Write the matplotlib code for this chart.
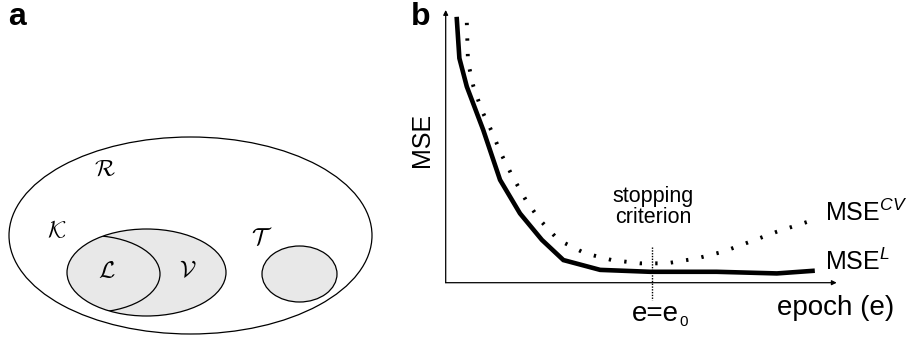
import numpy as np
import matplotlib.pyplot as plt
from matplotlib.patches import Ellipse

plt.rcParams['font.family'] = ['Liberation Sans', 'DejaVu Sans']
plt.rcParams['mathtext.fontset'] = 'custom'
plt.rcParams['mathtext.rm'] = 'Liberation Sans'
plt.rcParams['mathtext.it'] = 'Liberation Sans:italic'

# panel b curves (arbitrary units: epoch 0-100, MSE 0-100)
train_epoch = [2.8, 3.5, 5.4, 9.6, 13.9, 19.0, 24.6, 30.1, 39.5, 52.3, 69.3, 84.7, 94.4]
train_mse = [97.5, 82.3, 71.9, 56.0, 37.7, 25.4, 15.7, 8.3, 4.7, 4.0, 4.0, 3.4, 4.4]
cv_epoch = [5.4, 5.7, 7.1, 9.2, 11.8, 14.1, 17.1, 20.5, 24.1, 28.8, 35.6, 42.5, 49.7,
            56.5, 64.2, 71.0, 77.8, 84.7, 94.0]
cv_mse = [95.3, 81.0, 71.9, 63.3, 55.4, 47.5, 38.9, 30.3, 23.0, 15.7, 10.8, 8.3, 7.1,
          7.1, 8.9, 11.4, 15.0, 18.7, 23.0]
stop_epoch = 52.7

fig = plt.figure(figsize=(9.06, 3.43), dpi=100)

# ---- panel a: set diagram, drawn in pixel units
axa = fig.add_axes([0, 0, 453 / 906, 1])
axa.set_xlim(0, 453)
axa.set_ylim(343, 0)
axa.axis('off')

gray = '#e8e8e8'
outer = Ellipse((190.5, 235.5), 363, 197, fc='white', ec='black', lw=0.9)
axa.add_patch(outer)
v_ell = Ellipse((146.5, 272.5), 159, 87, fc=gray, ec='black', lw=0.9)
axa.add_patch(v_ell)
l_ell = Ellipse((90, 274), 140, 77, fc='none', ec='black', lw=0.9)
axa.add_patch(l_ell)
l_ell.set_clip_path(v_ell)
t_ell = Ellipse((299.5, 274), 75, 56, fc=gray, ec='black', lw=0.9)
axa.add_patch(t_ell)

for lab, x, y in [(r'$\mathcal{R}$', 105, 169), (r'$\mathcal{K}$', 57, 231),
                  (r'$\mathcal{T}$', 262, 238), (r'$\mathcal{L}$', 107, 271),
                  (r'$\mathcal{V}$', 188, 271)]:
    axa.text(x, y, lab, fontsize=17, ha='center', va='center', math_fontfamily='cm')

fig.text(17 / 906, 1 - 17 / 343, 'a', fontsize=23, fontweight='bold', ha='center', va='center')
fig.text(421 / 906, 1 - 17 / 343, 'b', fontsize=23, fontweight='bold', ha='center', va='center')

# ---- panel b: MSE curves
axb = fig.add_axes([445.7 / 906, (343 - 282.7) / 343, 391 / 906, 272.7 / 343])
axb.set_xlim(0, 100)
axb.set_ylim(0, 100)
axb.axis('off')

axb.annotate('', xy=(0, 100), xytext=(0, 0), xycoords='data',
             arrowprops=dict(arrowstyle='-|>', lw=0.9, color='black', mutation_scale=7,
                             shrinkA=0, shrinkB=0), annotation_clip=False)
axb.annotate('', xy=(100, 0), xytext=(0, 0), xycoords='data',
             arrowprops=dict(arrowstyle='-|>', lw=0.9, color='black', mutation_scale=7,
                             shrinkA=0, shrinkB=0), annotation_clip=False)

axb.plot(train_epoch, train_mse, color='black', lw=3.3, solid_joinstyle='miter',
         solid_capstyle='butt', clip_on=False)
axb.plot(cv_epoch, cv_mse, color='black', lw=2.8, linestyle=(0, (0.6, 3.4)),
         dash_capstyle='butt', clip_on=False)
axb.plot([stop_epoch, stop_epoch], [13.2, -6.3], color='black', lw=1.0,
         linestyle=(0, (1, 1)), clip_on=False)

axb.text(53.0, 27.8, 'stopping\ncriterion', fontsize=15.5, ha='center', va='center',
         linespacing=1.0)
axb.text(53.7, -11.3, 'e=e', fontsize=20, ha='center', va='center')
axb.text(60.9, -14.3, '0', fontsize=11, ha='center', va='center')
axb.text(84.7, -9.3, 'epoch (e)', fontsize=20, ha='left', va='center')
axb.text(97.1, 25.8, r'MSE$^{\mathit{CV}}$', fontsize=18, ha='left', va='center')
axb.text(97.1, 7.7, r'MSE$^{\mathit{L}}$', fontsize=18, ha='left', va='center')
fig.text(421.7 / 906, 1 - 140 / 343, 'MSE', fontsize=18, rotation=90, ha='center', va='center')

fig.savefig('out.png', dpi=100)
